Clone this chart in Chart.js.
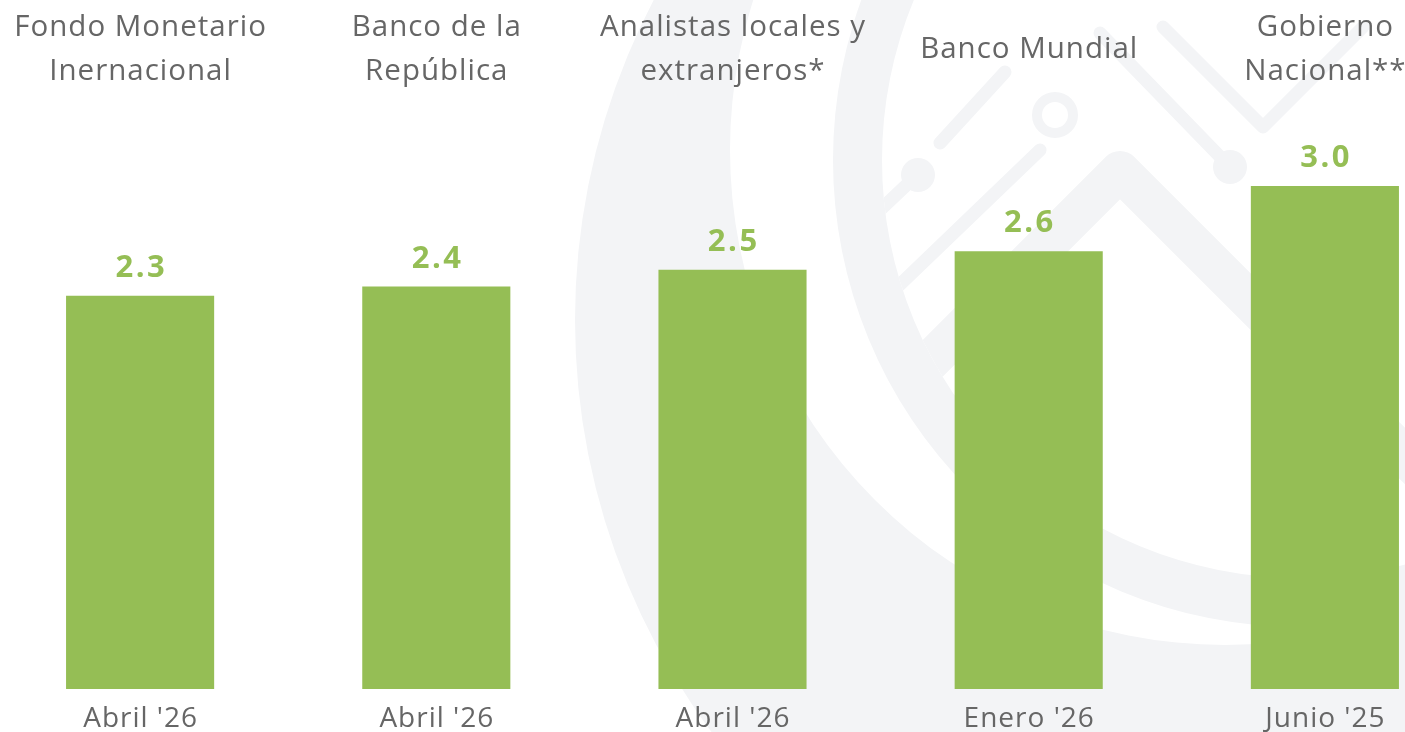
<!DOCTYPE html>
<html>
<head>
<meta charset="utf-8">
<script src="https://cdn.jsdelivr.net/npm/chart.js@4.4.1/dist/chart.umd.min.js"></script>
<style>
  html, body { margin: 0; padding: 0; background: #ffffff; overflow: hidden; }
  #wrap { position: absolute; left: -8px; top: 0; width: 1481px; height: 732px; }
</style>
</head>
<body>
<div id="wrap"><canvas id="c" width="1481" height="732"></canvas></div>
<script>
// ---- Data ----
const categories = [
  ["Fondo Monetario", "Inernacional"],
  ["Banco de la", "República"],
  ["Analistas locales y", "extranjeros*"],
  ["Banco Mundial"],
  ["Gobierno", "Nacional**"]
];
const periods = ["Abril '26", "Abril '26", "Abril '26", "Enero '26", "Junio '25"];
const values = [2.345, 2.4, 2.5, 2.61, 3.0];

const GREEN = '#95be55';
const GRAY_TEXT = '#666666';
const WM = '#f3f4f6';

// faint background watermark (logo), page coordinates shifted into canvas
const watermark = {
  id: 'watermark',
  beforeDraw(chart) {
    const ctx = chart.ctx;
    ctx.save();
    ctx.translate(8, 0);
    ctx.fillStyle = WM;
    ctx.strokeStyle = WM;
    ctx.beginPath();
    ctx.arc(1265, 320, 690, 0, Math.PI * 2);
    ctx.moveTo(1225 + 495, 150);
    ctx.arc(1225, 150, 495, 0, Math.PI * 2, true);
    ctx.fill('evenodd');
    ctx.beginPath();
    ctx.arc(1300, 160, 467, 0, Math.PI * 2);
    ctx.moveTo(1300 + 418, 160);
    ctx.arc(1300, 160, 418, 0, Math.PI * 2, true);
    ctx.fill('evenodd');
    ctx.beginPath();
    ctx.arc(1300, 160, 418, 0, Math.PI * 2);
    ctx.clip();
    ctx.lineCap = 'round';
    ctx.lineJoin = 'round';
    ctx.lineWidth = 40;
    ctx.beginPath();
    ctx.moveTo(880, 411);
    ctx.lineTo(1120, 171);
    ctx.lineTo(1520, 571);
    ctx.stroke();
    ctx.lineWidth = 13;
    ctx.beginPath();
    ctx.moveTo(1040, 150); ctx.lineTo(887, 297);
    ctx.moveTo(940, 143); ctx.lineTo(1005, 72);
    ctx.moveTo(916, 176); ctx.lineTo(878, 212);
    ctx.moveTo(1100, 33); ctx.lineTo(1230, 167);
    ctx.moveTo(1163, 27); ctx.lineTo(1263, 127); ctx.lineTo(1363, 27);
    ctx.stroke();
    ctx.beginPath(); ctx.arc(918, 175, 17, 0, Math.PI * 2); ctx.fill();
    ctx.beginPath(); ctx.arc(1230, 167, 17, 0, Math.PI * 2); ctx.fill();
    ctx.lineWidth = 10;
    ctx.beginPath(); ctx.arc(1055, 115, 18, 0, Math.PI * 2); ctx.stroke();
    ctx.restore();
  }
};

function spacedText(ctx, text, x, y, spacing) {
  ctx.letterSpacing = spacing + 'px';
  ctx.fillText(text, x + spacing / 2, y);
  ctx.letterSpacing = '0px';
}

const labelsPlugin = {
  id: 'labelsPlugin',
  afterDatasetsDraw(chart) {
    const ctx = chart.ctx;
    const meta = chart.getDatasetMeta(0);
    const xs = chart.scales.x;
    ctx.save();
    ctx.textAlign = 'center';
    ctx.textBaseline = 'alphabetic';
    ctx.fillStyle = GREEN;
    ctx.font = 'bold 31px "Open Sans"';
    meta.data.forEach((bar, i) => {
      spacedText(ctx, values[i].toFixed(1), bar.x, bar.y - 19, 2.5);
    });
    ctx.fillStyle = GRAY_TEXT;
    ctx.font = '29.5px "Open Sans"';
    categories.forEach((lines, i) => {
      const x = xs.getPixelForValue(i);
      if (lines.length === 1) {
        spacedText(ctx, lines[0], x, 58, 1);
      } else {
        lines.forEach((ln, j) => spacedText(ctx, ln, x, 36 + j * 44, 1));
      }
    });
    ctx.font = '28px "Open Sans"';
    periods.forEach((p, i) => {
      spacedText(ctx, p, xs.getPixelForValue(i), 727, 1);
    });
    ctx.restore();
  }
};

new Chart(document.getElementById('c'), {
  type: 'bar',
  data: {
    labels: periods,
    datasets: [{
      data: values,
      backgroundColor: GREEN,
      borderWidth: 0,
      categoryPercentage: 1.0,
      barPercentage: 0.5
    }]
  },
  options: {
    responsive: false,
    animation: false,
    devicePixelRatio: 1,
    layout: { padding: { top: 18.3, bottom: 43, left: 0, right: 0 } },
    plugins: { legend: { display: false }, tooltip: { enabled: false } },
    scales: {
      x: { display: false },
      y: { display: false, min: 0, max: 4 }
    }
  },
  plugins: [watermark, labelsPlugin]
});
</script>
</body>
</html>
